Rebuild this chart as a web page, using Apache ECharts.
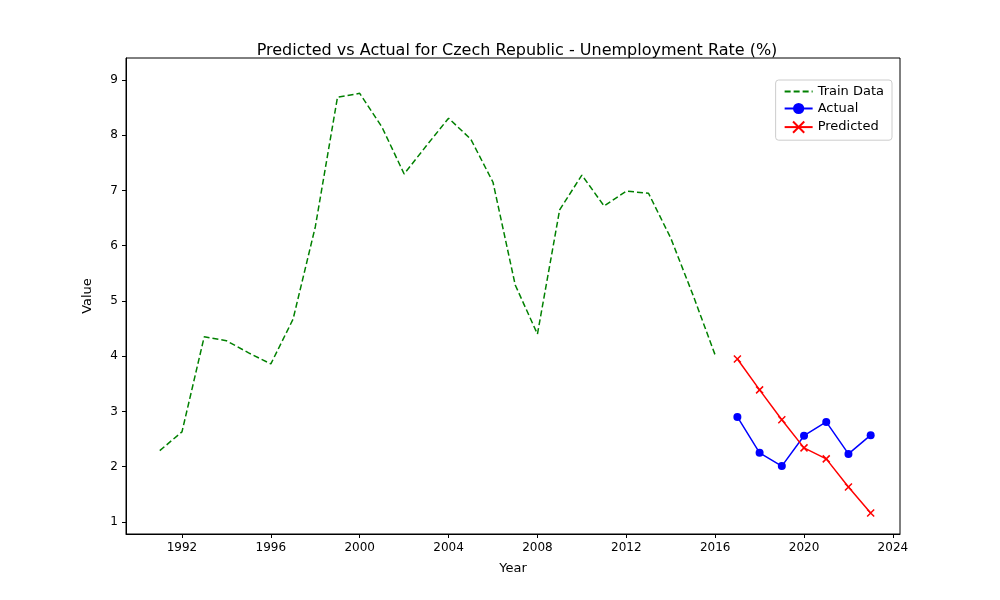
<!DOCTYPE html><html><head><meta charset="utf-8"><script src="https://cdn.jsdelivr.net/npm/echarts@6/dist/echarts.min.js"></script></head><body style="margin:0"><div id="c" style="width:1000px;height:600px"></div><script>
const trainYears=[1991,1992,1993,1994,1995,1996,1997,1998,1999,2000,2001,2002,2003,2004,2005,2006,2007,2008,2009,2010,2011,2012,2013,2014,2015,2016];
const trainVals=[2.29,2.63,4.35,4.28,4.06,3.86,4.67,6.34,8.69,8.76,8.15,7.30,7.81,8.31,7.93,7.15,5.29,4.40,6.65,7.28,6.72,6.99,6.95,6.14,5.11,4.02];
const testYears=[2017,2018,2019,2020,2021,2022,2023];
const actualVals=[2.90,2.25,2.01,2.56,2.81,2.23,2.57];
const predVals=[3.95,3.39,2.85,2.34,2.14,1.63,1.16];
const xTicks=[1992,1996,2000,2004,2008,2012,2016,2020,2024];
const yTicks=[1,2,3,4,5,6,7,8,9];
const z=(a,b)=>a.map((v,i)=>[v,b[i]]);
const F='DejaVu Sans';
echarts.init(document.getElementById('c')).setOption({
animation:false,
title:{text:'Predicted vs Actual for Czech Republic - Unemployment Rate (%)',left:512,textAlign:'center',top:38,textStyle:{fontFamily:F,fontSize:16,fontWeight:'normal',color:'#000'}},
legend:{right:108,top:80,orient:'vertical',itemGap:4,borderColor:'#ccc',borderWidth:1,borderRadius:3,padding:[5,8],itemWidth:28,textStyle:{fontFamily:F,fontSize:13,color:'#000'},data:[{name:'Train Data',itemStyle:{opacity:0}},'Actual','Predicted']},
grid:{left:126,right:100,top:58,bottom:66,show:true,borderColor:'#000',borderWidth:1},
xAxis:{type:'value',min:1989.48,max:2024.32,name:'Year',nameLocation:'middle',nameGap:28,nameTextStyle:{fontFamily:F,fontSize:13,color:'#000'},splitLine:{show:false},axisLine:{lineStyle:{color:'#000'}},axisTick:{customValues:xTicks,length:4,lineStyle:{color:'#000'}},axisLabel:{customValues:xTicks,formatter:v=>String(v),fontFamily:F,fontSize:12,color:'#000'}},
yAxis:{type:'value',min:0.78,max:9.40,name:'Value',nameLocation:'middle',nameGap:32,nameTextStyle:{fontFamily:F,fontSize:13,color:'#000'},splitLine:{show:false},axisLine:{show:true,lineStyle:{color:'#000'}},axisTick:{show:true,customValues:yTicks,length:4,lineStyle:{color:'#000'}},axisLabel:{customValues:yTicks,formatter:v=>String(v),fontFamily:F,fontSize:12,color:'#000'}},
series:[
{name:'Train Data',type:'line',data:z(trainYears,trainVals),showSymbol:false,symbol:'none',color:'green',lineStyle:{type:[6,3],width:1.5,color:'green'}},
{name:'Actual',type:'line',data:z(testYears,actualVals),symbol:'circle',symbolSize:8,color:'blue',lineStyle:{width:1.5,color:'blue'},itemStyle:{color:'blue'}},
{name:'Predicted',type:'line',data:z(testYears,predVals),symbol:'path://M0,0L10,10M10,0L0,10',symbolSize:7,color:'red',lineStyle:{width:1.5,color:'red'},itemStyle:{color:'none',borderColor:'red',borderWidth:1.5}}
]});
</script></body></html>
